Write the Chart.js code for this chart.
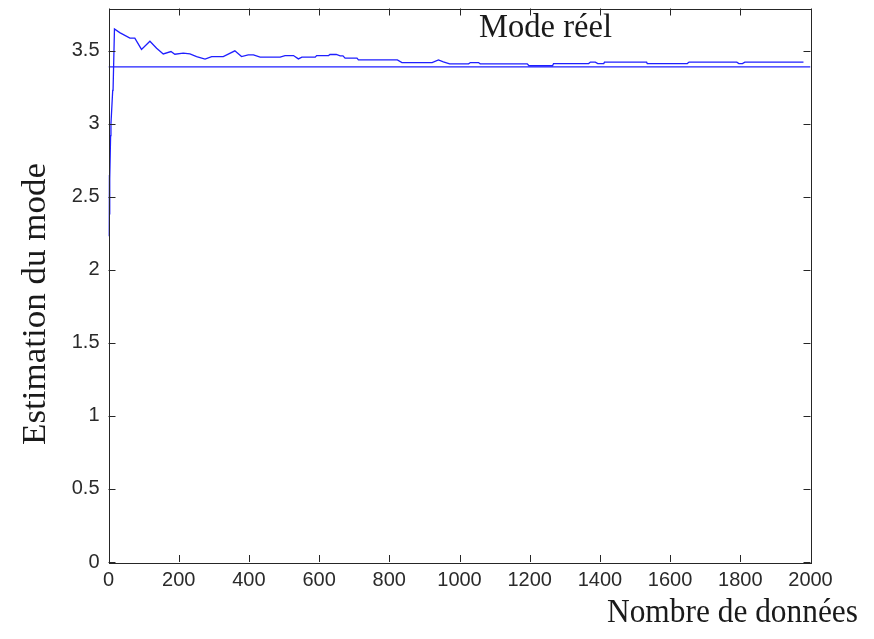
<!DOCTYPE html>
<html>
<head>
<meta charset="utf-8">
<script src="https://cdn.jsdelivr.net/npm/chart.js@4/dist/chart.umd.min.js"></script>
<style>
  html, body { margin: 0; padding: 0; background: #fff; }
  #wrap { width: 874px; height: 639px; position: relative; }
</style>
</head>
<body>
<div id="wrap"><canvas id="c" width="874" height="639"></canvas></div>
<script>
// ---- data ----
const xTicks = [0, 200, 400, 600, 800, 1000, 1200, 1400, 1600, 1800, 2000];
const yTicks = [0, 0.5, 1, 1.5, 2, 2.5, 3, 3.5];
const xRange = [0, 2000];
const yRange = [0, 3.79];
const trueMode = 3.39;
const sampleCounts = [1, 2, 3, 4, 6, 7, 12, 13, 17, 32, 61, 75, 94, 118, 137, 156, 178, 189, 213, 232,
  251, 275, 294, 327, 360, 379, 398, 413, 432, 489, 503, 527, 541, 551, 589, 593, 627, 631, 649, 660,
  668, 674, 708, 712, 823, 836, 922, 940, 954, 972, 1026, 1031, 1054, 1059, 1193, 1198, 1265, 1268,
  1368, 1373, 1387, 1394, 1411, 1413, 1533, 1535, 1649, 1654, 1790, 1796, 1806, 1813, 1980];
const modeEstimates = [2.23, 2.65, 2.38, 2.62, 2.92, 3.0, 3.23, 3.23, 3.65, 3.625, 3.587, 3.587, 3.51, 3.566, 3.518, 3.479, 3.495, 3.477, 3.484, 3.479,
  3.461, 3.443, 3.461, 3.461, 3.5, 3.461, 3.473, 3.473, 3.457, 3.457, 3.468, 3.468, 3.445, 3.457, 3.457, 3.468, 3.468, 3.475, 3.475, 3.466,
  3.466, 3.45, 3.45, 3.438, 3.438, 3.42, 3.42, 3.438, 3.425, 3.411, 3.411, 3.42, 3.42, 3.411, 3.411, 3.398, 3.398, 3.413,
  3.413, 3.423, 3.423, 3.413, 3.413, 3.423, 3.423, 3.413, 3.413, 3.423, 3.423, 3.413, 3.413, 3.423, 3.423];
const xTitle = 'Nombre de données';
const yTitle = 'Estimation du mode';
const lineLabel = 'Mode réel';

// ---- drawing ----
const AXIS = '#262626';
const SERIF = '"Liberation Serif", "DejaVu Serif", serif';

function fitText(ctx, text, x, y, width, size) {
  ctx.font = size + 'px ' + SERIF;
  const w = ctx.measureText(text).width;
  ctx.save();
  ctx.translate(x, y);
  ctx.scale(width / w, 1);
  ctx.fillText(text, 0, 0);
  ctx.restore();
}

const frame = {
  id: 'frame',
  afterDatasetsDraw(chart) {
    const { ctx, chartArea: a, scales: { x, y } } = chart;
    ctx.save();
    ctx.strokeStyle = AXIS;
    ctx.lineWidth = 1;
    ctx.strokeRect(Math.round(a.left) + 0.5, Math.round(a.top) + 0.5,
      Math.round(a.right - a.left), Math.round(a.bottom - a.top));
    const L = 7;
    ctx.beginPath();
    xTicks.forEach(v => {
      const px = Math.round(x.getPixelForValue(v)) + 0.5;
      ctx.moveTo(px, a.bottom); ctx.lineTo(px, a.bottom - L);
      ctx.moveTo(px, a.top); ctx.lineTo(px, a.top + L);
    });
    yTicks.forEach(v => {
      const py = Math.round(y.getPixelForValue(v)) + 0.5;
      ctx.moveTo(a.left, py); ctx.lineTo(a.left + L, py);
      ctx.moveTo(a.right, py); ctx.lineTo(a.right - L, py);
    });
    ctx.stroke();
    ctx.restore();
  },
  afterDraw(chart) {
    const { ctx } = chart;
    ctx.save();
    ctx.fillStyle = '#1a1a1a';
    ctx.textBaseline = 'alphabetic';
    ctx.textAlign = 'left';
    fitText(ctx, lineLabel, 479, 37, 133, 33);
    fitText(ctx, xTitle, 607, 622, 251, 33);
    ctx.translate(45, 445);
    ctx.rotate(-Math.PI / 2);
    fitText(ctx, yTitle, 0, 0, 282, 33);
    ctx.restore();
  }
};

new Chart(document.getElementById('c'), {
  type: 'line',
  data: {
    datasets: [
      {
        data: sampleCounts.map((v, i) => ({ x: v, y: modeEstimates[i] })),
        borderColor: '#1f1fff', borderWidth: 1.3, pointRadius: 0, tension: 0, fill: false
      },
      {
        data: [{ x: xRange[0], y: trueMode }, { x: xRange[1], y: trueMode }],
        borderColor: '#1f1fff', borderWidth: 1.3, pointRadius: 0, tension: 0, fill: false
      }
    ]
  },
  options: {
    responsive: false,
    animation: false,
    devicePixelRatio: 1,
    layout: { padding: { left: 0, right: 63.5, top: 8.5, bottom: 0 } },
    plugins: { legend: { display: false }, tooltip: { enabled: false } },
    scales: {
      x: {
        type: 'linear', min: xRange[0], max: xRange[1],
        afterBuildTicks: s => { s.ticks = xTicks.map(v => ({ value: v })); },
        afterFit: s => { s.height = 77; s.paddingLeft = 0; s.paddingRight = 0; },
        grid: { display: false }, border: { display: false },
        ticks: { autoSkip: false, maxRotation: 0, padding: -2, color: '#2a2a2a',
          font: { family: '"Liberation Sans", Arial, sans-serif', size: 20 },
          callback: v => String(v) }
      },
      y: {
        type: 'linear', min: yRange[0], max: yRange[1],
        afterBuildTicks: s => { s.ticks = yTicks.map(v => ({ value: v })); },
        afterFit: s => { s.width = 108.5; s.paddingTop = 0; s.paddingBottom = 0; },
        grid: { display: false }, border: { display: false },
        ticks: { autoSkip: false, padding: 1, color: '#2a2a2a',
          font: { family: '"Liberation Sans", Arial, sans-serif', size: 20 },
          callback: v => String(v) }
      }
    }
  },
  plugins: [frame]
});
</script>
</body>
</html>
